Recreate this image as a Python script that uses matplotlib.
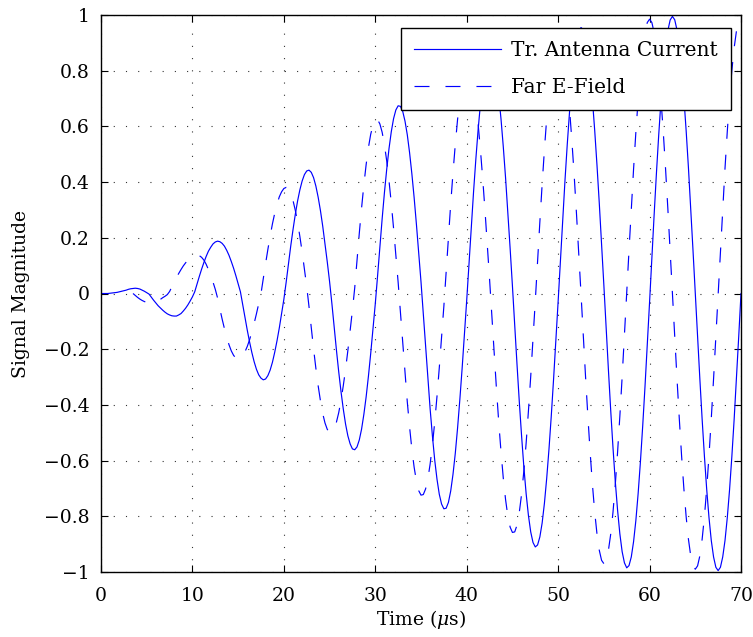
import matplotlib
matplotlib.use("Agg")
import matplotlib.pyplot as plt
import numpy as np
from matplotlib.ticker import FuncFormatter

# sample times (us), 0.25 us spacing
t_current = np.arange(0, 70.01, 0.25)
t_field = np.arange(3.5, 70.01, 0.25)

# Tr. Antenna Current (one row = 1 us)
current = [
    0.000, 0.000, 0.000, 0.000,
    0.001, 0.002, 0.003, 0.004,
    0.006, 0.008, 0.010, 0.012,
    0.015, 0.017, 0.018, 0.019,
    0.018, 0.016, 0.012, 0.008,
    0.003, -0.002, -0.013, -0.024,
    -0.034, -0.044, -0.052, -0.060,
    -0.067, -0.073, -0.077, -0.080,
    -0.081, -0.081, -0.077, -0.072,
    -0.063, -0.053, -0.041, -0.027,
    -0.012, 0.006, 0.034, 0.061,
    0.087, 0.111, 0.133, 0.152,
    0.166, 0.178, 0.185, 0.188,
    0.186, 0.180, 0.170, 0.155,
    0.137, 0.115, 0.091, 0.064,
    0.035, 0.006, -0.039, -0.086,
    -0.132, -0.174, -0.212, -0.245,
    -0.272, -0.292, -0.304, -0.310,
    -0.307, -0.295, -0.275, -0.247,
    -0.211, -0.170, -0.124, -0.073,
    -0.021, 0.040, 0.106, 0.170,
    0.229, 0.284, 0.332, 0.372,
    0.404, 0.427, 0.440, 0.443,
    0.435, 0.416, 0.386, 0.346,
    0.298, 0.242, 0.179, 0.113,
    0.043, -0.035, -0.120, -0.203,
    -0.281, -0.352, -0.415, -0.469,
    -0.511, -0.540, -0.558, -0.561,
    -0.551, -0.526, -0.487, -0.434,
    -0.371, -0.297, -0.215, -0.128,
    -0.037, 0.063, 0.168, 0.268,
    0.362, 0.446, 0.520, 0.581,
    0.628, 0.659, 0.674, 0.672,
    0.654, 0.619, 0.570, 0.506,
    0.430, 0.344, 0.248, 0.147,
    0.042, -0.073, -0.193, -0.308,
    -0.415, -0.512, -0.598, -0.667,
    -0.721, -0.756, -0.773, -0.771,
    -0.750, -0.709, -0.649, -0.574,
    -0.483, -0.380, -0.268, -0.148,
    -0.024, 0.108, 0.240, 0.366,
    0.483, 0.589, 0.680, 0.753,
    0.809, 0.845, 0.860, 0.853,
    0.826, 0.778, 0.711, 0.627,
    0.527, 0.415, 0.291, 0.161,
    0.027, -0.114, -0.254, -0.388,
    -0.511, -0.623, -0.719, -0.797,
    -0.856, -0.894, -0.910, -0.903,
    -0.874, -0.824, -0.753, -0.663,
    -0.558, -0.439, -0.308, -0.170,
    -0.028, 0.119, 0.266, 0.407,
    0.537, 0.654, 0.754, 0.837,
    0.899, 0.938, 0.955, 0.947,
    0.917, 0.864, 0.790, 0.696,
    0.585, 0.460, 0.324, 0.179,
    0.030, -0.123, -0.275, -0.420,
    -0.554, -0.675, -0.778, -0.863,
    -0.927, -0.967, -0.985, -0.977,
    -0.946, -0.891, -0.815, -0.718,
    -0.604, -0.475, -0.334, -0.184,
    -0.031, 0.127, 0.283, 0.432,
    0.569, 0.693, 0.798, 0.882,
    0.944, 0.982, 0.995, 0.983,
    0.946, 0.887, 0.805, 0.704,
    0.585, 0.452, 0.307, 0.155,
    0.000, -0.155, -0.307, -0.452,
    -0.585, -0.704, -0.805, -0.887,
    -0.946, -0.983, -0.995, -0.983,
    -0.946, -0.887, -0.805, -0.704,
    -0.585, -0.452, -0.307, -0.155,
    0.000,
]

# Far E-Field (starts at 3.5 us)
field = [
    0.000, -0.007,
    -0.014, -0.020, -0.025, -0.029,
    -0.032, -0.033, -0.033, -0.031,
    -0.029, -0.025, -0.021, -0.015,
    -0.010, -0.004, 0.007, 0.024,
    0.041, 0.057, 0.072, 0.086,
    0.099, 0.110, 0.120, 0.127,
    0.133, 0.136, 0.138, 0.136,
    0.130, 0.120, 0.105, 0.086,
    0.065, 0.041, 0.015, -0.016,
    -0.055, -0.092, -0.126, -0.158,
    -0.184, -0.206, -0.222, -0.232,
    -0.235, -0.232, -0.223, -0.209,
    -0.190, -0.166, -0.138, -0.107,
    -0.073, -0.037, 0.000, 0.054,
    0.107, 0.158, 0.206, 0.250,
    0.288, 0.320, 0.347, 0.365,
    0.377, 0.381, 0.376, 0.360,
    0.334, 0.299, 0.256, 0.205,
    0.149, 0.088, 0.025, -0.047,
    -0.124, -0.199, -0.268, -0.331,
    -0.385, -0.431, -0.465, -0.488,
    -0.499, -0.498, -0.486, -0.462,
    -0.428, -0.384, -0.331, -0.272,
    -0.205, -0.134, -0.060, 0.020,
    0.120, 0.216, 0.307, 0.390,
    0.463, 0.524, 0.572, 0.604,
    0.622, 0.624, 0.609, 0.579,
    0.534, 0.476, 0.405, 0.324,
    0.234, 0.139, 0.040, -0.068,
    -0.181, -0.288, -0.389, -0.479,
    -0.559, -0.624, -0.674, -0.708,
    -0.724, -0.722, -0.702, -0.666,
    -0.612, -0.544, -0.462, -0.369,
    -0.267, -0.158, -0.046, 0.076,
    0.202, 0.322, 0.434, 0.535,
    0.625, 0.697, 0.753, 0.791,
    0.808, 0.807, 0.785, 0.744,
    0.684, 0.608, 0.516, 0.412,
    0.298, 0.177, 0.051, -0.081,
    -0.214, -0.341, -0.461, -0.568,
    -0.663, -0.740, -0.800, -0.839,
    -0.858, -0.856, -0.832, -0.786,
    -0.721, -0.637, -0.537, -0.422,
    -0.298, -0.164, -0.027, 0.115,
    0.257, 0.392, 0.517, 0.630,
    0.727, 0.806, 0.866, 0.903,
    0.920, 0.913, 0.882, 0.829,
    0.754, 0.661, 0.550, 0.426,
    0.290, 0.147, 0.000, -0.151,
    -0.300, -0.440, -0.570, -0.686,
    -0.785, -0.864, -0.922, -0.958,
    -0.970, -0.958, -0.922, -0.864,
    -0.785, -0.686, -0.570, -0.440,
    -0.300, -0.151, 0.000, 0.154,
    0.304, 0.447, 0.579, 0.696,
    0.797, 0.878, 0.937, 0.973,
    0.985, 0.973, 0.937, 0.878,
    0.797, 0.696, 0.579, 0.447,
    0.304, 0.154, 0.000, -0.154,
    -0.306, -0.449, -0.582, -0.700,
    -0.801, -0.882, -0.942, -0.978,
    -0.990, -0.978, -0.942, -0.882,
    -0.801, -0.700, -0.582, -0.449,
    -0.306, -0.154, 0.000, 0.154,
    0.306, 0.449, 0.582, 0.700,
    0.801, 0.882, 0.942, 0.978,
    0.990,
]

x_ticks = np.arange(0, 71, 10)
y_ticks = np.round(np.arange(-1, 1.01, 0.2), 1)


def fmt_y(v, pos):
    if abs(v) < 1e-9:
        return "0"
    return f"{v:g}".replace('-', '\u2212')


plt.rcParams['font.family'] = ['DejaVu Serif']
plt.rcParams['mathtext.fontset'] = 'dejavuserif'
plt.rcParams['lines.scale_dashes'] = False
fs = 13.5

fig = plt.figure(figsize=(7.53, 6.37), dpi=100)
ax = fig.add_axes([101/753, 1 - 572/637, 640/753, 557/637])

ax.plot(t_current, current, color='blue', linewidth=0.85, label='Tr. Antenna Current')
ax.plot(t_field, field, color='blue', linewidth=0.85, linestyle=(0, (10.8, 11.5)), label='Far E-Field')

ax.set_xlim(0, 70)
ax.set_ylim(-1, 1)
ax.set_xticks(x_ticks)
ax.set_yticks(y_ticks)
ax.yaxis.set_major_formatter(FuncFormatter(fmt_y))
ax.tick_params(direction='in', top=True, right=True, length=5, width=0.8, labelsize=fs)
ax.tick_params(axis='x', pad=11)
ax.tick_params(axis='y', pad=8)
ax.grid(True, color='black', linestyle=(0, (0.8, 8)), linewidth=0.8, alpha=0.8)
for s in ax.spines.values():
    s.set_linewidth(1.0)

ax.set_xlabel(r'Time ($\mu$s)', fontsize=fs, labelpad=2)
ax.set_ylabel('Signal Magnitude', fontsize=fs, labelpad=10)

leg = ax.legend(loc='upper right', bbox_to_anchor=(1 - 10/640, 1 - 13/557), borderaxespad=0,
                fontsize=14.5, fancybox=False, edgecolor='black', framealpha=1,
                handlelength=4.3, handletextpad=0.5, labelspacing=0.9, borderpad=0.65)
leg.get_frame().set_linewidth(1.0)

fig.savefig('out.png', dpi=100)
plt.close(fig)
